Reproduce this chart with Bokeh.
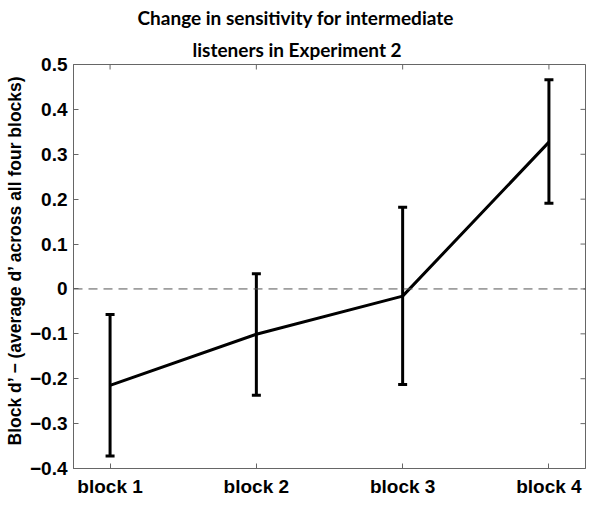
from bokeh.plotting import figure
from bokeh.models import (ColumnDataSource, Whisker, TeeHead, Span,
                          FixedTicker, Title, CustomJSTickFormatter, Range1d)
from bokeh.embed import file_html
from bokeh.resources import INLINE

# ---- data ----
categories = ["block 1", "block 2", "block 3", "block 4"]
means = [-0.215, -0.101, -0.016, 0.327]
upper = [-0.057, 0.034, 0.182, 0.466]
lower = [-0.372, -0.237, -0.213, 0.191]
y_ticks = [-0.4, -0.3, -0.2, -0.1, 0.0, 0.1, 0.2, 0.3, 0.4, 0.5]

title_line1 = "Change in sensitivity for intermediate"
title_line2 = "listeners in Experiment 2"
y_label = "Block d\u2019 \u2212 (average d\u2019 across all four blocks)"

positions = list(range(1, len(categories) + 1))
src = ColumnDataSource(dict(x=positions, y=means, upper=upper, lower=lower))

X0, X1 = 0.75, 4.25
Y0, Y1 = -0.4, 0.5
FW, FH = 512, 404
TICK_PX = 5

FRAME = "#666666"
TICK_FONT = "Liberation Sans"

p = figure(frame_width=FW, frame_height=FH, output_backend="svg",
           toolbar_location=None,
           x_range=Range1d(X0, X1), y_range=Range1d(Y0, Y1),
           min_border_left=71, min_border_right=2, min_border_top=57,
           min_border_bottom=0)
p.background_fill_color = "white"
p.border_fill_color = "white"
p.outline_line_color = FRAME
p.outline_line_width = 1
p.xgrid.visible = False
p.ygrid.visible = False

# titles (two lines)
p.title.text = title_line1
p.title.align = "left"
p.title.offset = 64
p.title.text_font = "Lato"
p.title.text_font_style = "bold"
p.title.text_font_size = "19px"
p.title.text_color = "black"
p.title.standoff = 6
p.add_layout(Title(text=title_line2, align="left", offset=119, text_font="Lato",
                   text_font_style="bold", text_font_size="19px",
                   text_color="black", standoff=8), "above")

# vertical axis title
p.add_layout(Title(text=y_label, align="left", offset=23,
                   text_font=TICK_FONT, text_font_style="bold",
                   text_font_size="17.5px", text_color="black", standoff=4),
             "left")

fmt = CustomJSTickFormatter(code="""
if (Math.abs(tick) < 1e-9) { return '0'; }
return tick.toFixed(1).replace('-', '\\u2212');
""")

# left axis
ya = p.yaxis[0]
ya.ticker = FixedTicker(ticks=y_ticks)
ya.formatter = fmt
ya.major_label_text_font = TICK_FONT
ya.major_label_text_font_style = "bold"
ya.major_label_text_font_size = "19px"
ya.major_label_standoff = 6

# bottom axis
xa = p.xaxis[0]
xa.ticker = FixedTicker(ticks=positions)
xa.major_label_overrides = {pos: cat for pos, cat in zip(positions, categories)}
xa.major_label_text_font = TICK_FONT
xa.major_label_text_font_style = "bold"
xa.major_label_text_font_size = "19px"
xa.major_label_standoff = 7

for ax in (xa, ya):
    ax.major_tick_in = TICK_PX
    ax.major_tick_out = 0
    ax.minor_tick_line_color = None
    ax.axis_line_color = FRAME
    ax.major_tick_line_color = FRAME
    ax.major_label_text_color = "black"

# inward ticks on the top and right edges of the box
dx = TICK_PX * (X1 - X0) / FW
dy = TICK_PX * (Y1 - Y0) / FH
p.segment(x0=positions, y0=[Y1] * len(positions), x1=positions,
          y1=[Y1 - dy] * len(positions), line_color=FRAME, line_width=1)
p.segment(x0=[X1] * len(y_ticks), y0=y_ticks, x1=[X1 - dx] * len(y_ticks),
          y1=y_ticks, line_color=FRAME, line_width=1)

# zero reference line
p.add_layout(Span(location=0, dimension="width", line_color="#555555",
                  line_width=1, line_dash="9 6"))

# mean line
p.line("x", "y", source=src, line_color="black", line_width=3)

# error bars
p.add_layout(Whisker(source=src, base="x", upper="upper", lower="lower",
                     dimension="height", line_color="black", line_width=3,
                     upper_head=TeeHead(size=9, line_width=3, line_color="black"),
                     lower_head=TeeHead(size=9, line_width=3, line_color="black")))

open("out.html", "w").write(file_html(p, INLINE))
